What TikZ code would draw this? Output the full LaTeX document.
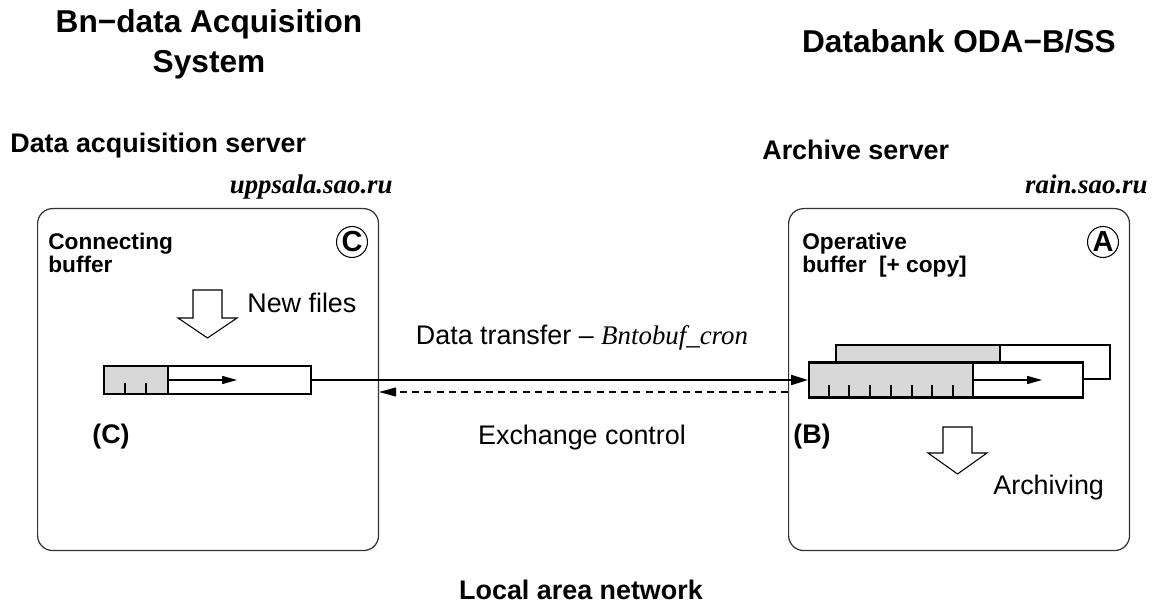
\documentclass[tikz,border=0pt]{standalone}
\usepackage{fontspec}
\setmainfont{Liberation Serif}
\setsansfont{Liberation Sans}
\usepackage{xcolor}
\usetikzlibrary{arrows.meta, positioning}
\definecolor{bufgray}{RGB}{216,216,216}

\begin{document}
\begin{tikzpicture}[
    x=0.02cm, y=-0.02cm,
    title/.style={font=\sffamily\bfseries\fontsize{18}{22}\selectfont, inner sep=0pt},
    heading/.style={font=\sffamily\bfseries\fontsize{15.3}{18}\selectfont, inner sep=0pt},
    host/.style={font=\rmfamily\bfseries\itshape\fontsize{15.3}{18}\selectfont, inner sep=0pt},
    tag/.style={font=\sffamily\bfseries\fontsize{12.9}{15}\selectfont, inner sep=0pt},
    caption/.style={font=\sffamily\fontsize{15.3}{18}\selectfont, inner sep=0pt},
    server/.style={rectangle, rounded corners=0.3cm, draw=black!80, line width=0.7pt, minimum width=6.82cm, minimum height=6.84cm},
    badge/.style={circle, draw, line width=0.6pt, inner sep=0pt, minimum size=0.62cm, font=\sffamily\bfseries\fontsize{16.5}{18}\selectfont},
    buffer/.style={rectangle, draw, line width=1.2pt, fill=white, inner sep=0pt},
    filled/.style={rectangle, draw, line width=1.2pt, fill=bufgray, inner sep=0pt},
    hollow/.style={draw, line width=0.6pt, fill=white},
    flow/.style={-{Triangle[length=0.3cm, width=0.16cm]}, line width=0.7pt},
    transfer/.style={-{Triangle[length=0.34cm, width=0.2cm]}, line width=1.2pt},
    control/.style={-{Triangle[length=0.34cm, width=0.18cm]}, dash pattern=on 4pt off 3pt, line width=0.6pt}
]
    \useasboundingbox (0,0) rectangle (1155,607);

    % Titles
    \node[title, anchor=base] (acqtitle) at (209,33) {Bn−data Acquisition};
    \node[title, anchor=base] (acqtitle2) at (209,73) {System};
    \node[title, anchor=base] (dbtitle) at (959,53) {Databank ODA−B/SS};

    % Servers
    \node[heading, anchor=base west] (acqhead) at (10,153) {Data acquisition server};
    \node[heading, anchor=base west] (archead) at (762,160) {Archive server};
    \node[host, anchor=base east] (acqhost) at (393,194) {uppsala.sao.ru};
    \node[host, anchor=base east] (archost) at (1148,194) {rain.sao.ru};
    \node[server, anchor=north west] (acqsrv) at (37,208) {};
    \node[server, anchor=north west] (arcsrv) at (788,208) {};

    % Connecting buffer
    \node[tag, anchor=base west] (conlbl) at (48,250) {Connecting};
    \node[tag, anchor=base west] (conlbl2) at (48,273) {buffer};
    \node[badge] (badgec) at (352,242) {C};
    \draw[hollow] (193,290) -- (222,290) -- (222,318) -- (237,318) -- (207.5,338) -- (178,318) -- (193,318) -- cycle;
    \node[caption, anchor=base west] (newfiles) at (247,313) {New files};
    \node[buffer, minimum width=4.14cm, minimum height=0.56cm, anchor=west] (cbuf) at (103,380) {};
    \node[filled, minimum width=1.28cm, minimum height=0.56cm, anchor=west] (cfill) at (103,380) {};
    \foreach \x in {125,146}
        \draw[line width=0.6pt] (\x,394) -- (\x,383);
    \draw[flow] (cfill.east) -- ++(68,0);
    \node[heading, anchor=base west] (lblc) at (92,443) {(C)};

    % Operative buffer
    \node[tag, anchor=base west] (oplbl) at (802,250) {Operative};
    \node[tag, anchor=base west] (oplbl2) at (802,273) {buffer\ \ [+ copy]};
    \node[badge] (badgea) at (1103,242) {A};
    \node[buffer, minimum width=5.48cm, minimum height=0.68cm, anchor=west] (bback) at (835,362) {};
    \node[filled, minimum width=3.28cm, minimum height=0.68cm, anchor=west] (bbackfill) at (835,362) {};
    \node[buffer, minimum width=5.48cm, minimum height=0.7cm, anchor=west] (bfront) at (808,380) {};
    \node[filled, minimum width=3.28cm, minimum height=0.7cm, anchor=west] (bfill) at (808,380) {};
    \foreach \x in {829,849,870,891,912,932,953}
        \draw[line width=0.6pt] (\x,397.5) -- (\x,385);
    \draw[flow] (bfill.east) -- ++(68,0);
    \node[heading, anchor=base west] (lblb) at (793,443) {(B)};
    \draw[hollow] (943,427) -- (972,427) -- (972,453) -- (987,453) -- (957.5,474) -- (928,453) -- (943,453) -- cycle;
    \node[caption, anchor=base west] (archiving) at (993,494) {Archiving};

    % Exchange
    \draw[transfer] (cbuf.east) -- (bfront.west);
    \node[caption, anchor=base] (xferlbl) at (582,345) {Data transfer – {\rmfamily\itshape Bntobuf\_cron}};
    \coordinate (ctrl) at (0,392);
    \draw[control] (arcsrv.west |- ctrl) -- (acqsrv.east |- ctrl);
    \node[caption, anchor=base] (ctrllbl) at (582,444) {Exchange control};

    % Network
    \node[heading, anchor=base] (lan) at (581,599) {Local area network};
\end{tikzpicture}
\end{document}
